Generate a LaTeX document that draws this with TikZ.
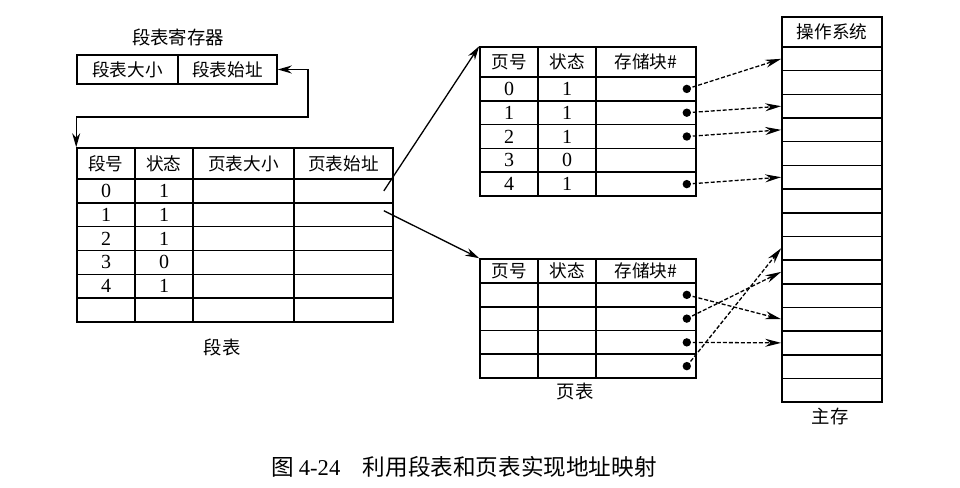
\documentclass[tikz,border=0pt]{standalone}
\usepackage{fontspec}
\setmainfont{Liberation Serif}
\newfontfamily\cjk{Noto Sans CJK SC}
\usetikzlibrary{arrows.meta,positioning}
\tikzset{
cell/.style={draw,line width=.8pt,inner sep=0pt,font=\fontsize{10}{11}\selectfont},
headcell/.style={cell,font=\cjk\fontsize{8.8}{10}\selectfont},
tablabel/.style={font=\cjk\fontsize{9.2}{11}\selectfont},
dotmark/.style={circle,fill,inner sep=0pt,minimum size=4.2pt},
arrow/.style={-{Stealth[length=7pt,width=4pt]},line width=.65pt},
twoarrow/.style={{Stealth[length=7pt,width=4pt]}-{Stealth[length=7pt,width=4pt]},line width=.65pt},
dashedarrow/.style={-{Stealth[length=8pt,width=4pt]},line width=.65pt,dash pattern=on 2pt off 1pt}
}
\begin{document}
\begin{tikzpicture}[x=.5pt,y=-.5pt]
\useasboundingbox (0,0) rectangle (960,488);
% segment table register
\node[tablabel] (regtitle) at (178,37) {段表寄存器};
\node[headcell,minimum width=50.5pt,minimum height=14.5pt] (reg-1) at (127.5,69.5) {段表大小};
\node[headcell,minimum width=49.5pt,minimum height=14.5pt] (reg-2) at (227.5,69.5) {段表始址};

% segment table
\foreach \c/\xl/\w/\txt in {1/77/58/段号,2/135/58/状态,3/193/101/页表大小,4/294/99/页表始址}
  \node[headcell,minimum width=\w*.5pt,minimum height=15.5pt] (s-0-\c) at ({\xl+\w/2},163.5) {\txt};
\foreach \r/\n/\s in {1/0/1,2/1/1,3/2/1,4/3/0,5/4/1,6//}
  \foreach \c/\xl/\w in {1/77/58,2/135/58,3/193/101,4/294/99}
    \node[cell,minimum width=\w*.5pt,minimum height=11.92pt] (s-\r-\c) at ({\xl+\w/2},{179+(\r-.5)*23.83}) {\ifcase\c\or\n\or\s\fi};
\node[tablabel] (segname) at (222,347) {段表};

% page table 1
\foreach \c/\xl/\w/\txt in {1/480/58/页号,2/538/58/状态,3/596/100/存储块\#}
  \node[headcell,minimum width=\w*.5pt,minimum height=15pt] (p-0-\c) at ({\xl+\w/2},62) {\txt};
\foreach \r/\n/\s in {1/0/1,2/1/1,3/2/1,4/3/0,5/4/1}
  \foreach \c/\xl/\w in {1/480/58,2/538/58,3/596/100}
    \node[cell,minimum width=\w*.5pt,minimum height=11.9pt] (p-\r-\c) at ({\xl+\w/2},{77+(\r-.5)*23.8}) {\ifcase\c\or\n\or\s\fi};

% page table 2
\foreach \c/\xl/\w/\txt in {1/480/58/页号,2/538/58/状态,3/596/100/存储块\#}
  \node[headcell,minimum width=\w*.5pt,minimum height=12pt] (q-0-\c) at ({\xl+\w/2},271) {\txt};
\foreach \r in {1,...,4}
  \foreach \c/\xl/\w in {1/480/58,2/538/58,3/596/100}
    \node[cell,minimum width=\w*.5pt,minimum height=11.88pt] (q-\r-\c) at ({\xl+\w/2},{283+(\r-.5)*23.75}) {};
\node[tablabel] (pagename) at (575,392) {页表};

% main memory
\node[headcell,minimum width=50pt,minimum height=15pt] (m-h) at (832,32) {操作系统};
\foreach \r in {0,...,14}
  \node[cell,minimum width=50pt,minimum height=11.83pt] (m-\r) at (832,{47+(\r+.5)*23.67}) {};
\node[tablabel] (memname) at (830,416) {主存};

% block pointers
\foreach \r in {1,2,3,5} \node[dotmark] (p-dot-\r) at ([xshift=-5pt]p-\r-3.east) {};
\foreach \r in {1,...,4} \node[dotmark] (q-dot-\r) at ([xshift=-5pt]q-\r-3.east) {};

% connectors
\coordinate (regbend) at (308,117);
\draw[twoarrow] (reg-2.east) -| (regbend) -| (s-0-1.north west);
\draw[arrow] ([xshift=-5pt]s-1-4.east) -- (p-0-1.north west);
\draw[arrow] ([xshift=-5pt,yshift=2pt]s-2-4.east) -- (q-0-1.north west);
\foreach \a/\b in {1/0,2/2,3/3,5/5} \draw[dashedarrow] (p-dot-\a.center) -- (m-\b.west);
\foreach \a/\b in {1/11,2/9,3/12,4/8} \draw[dashedarrow] (q-dot-\a.center) -- (m-\b.west);

\node[font=\cjk\fontsize{11.3}{13}\selectfont] (caption) at (464,467) {图 {\rmfamily 4-24}\quad 利用段表和页表实现地址映射};
\end{tikzpicture}
\end{document}
